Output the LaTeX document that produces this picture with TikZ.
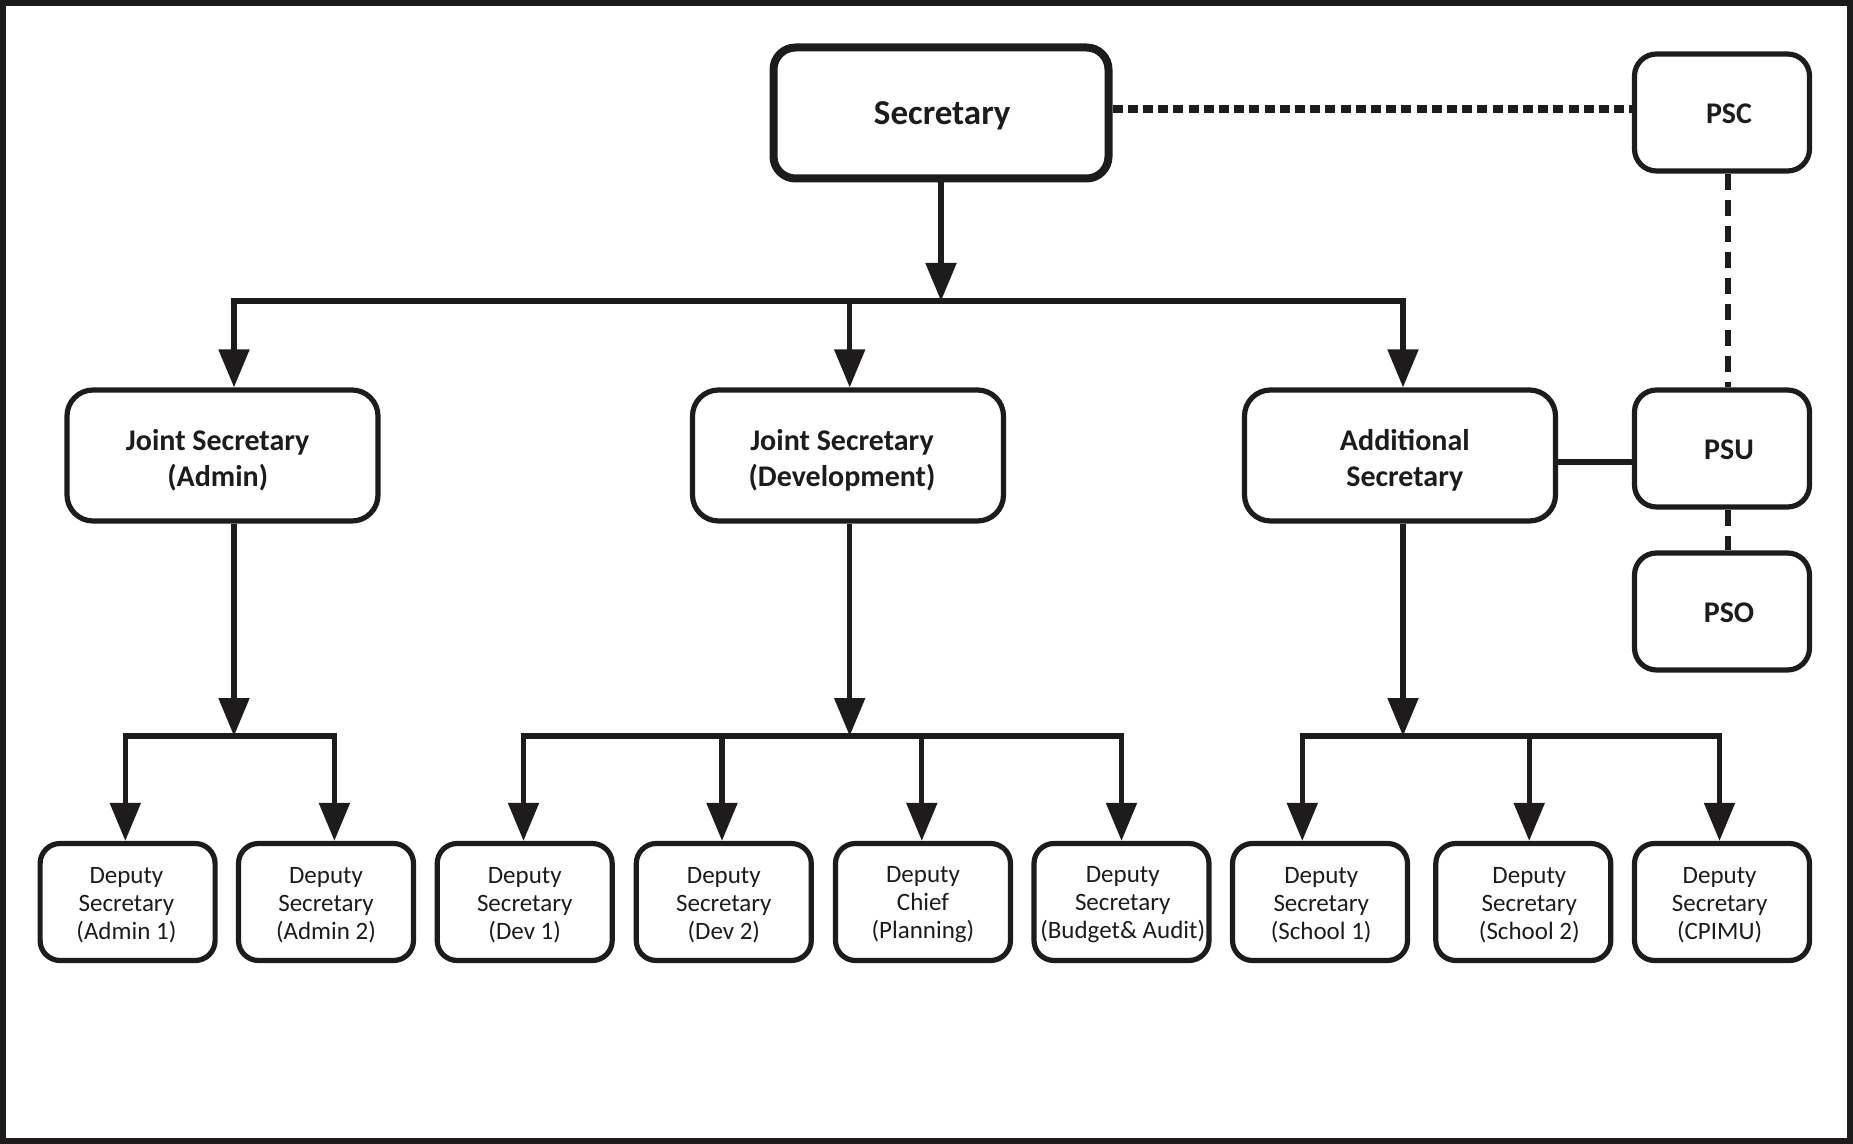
\documentclass[tikz,border=0pt]{standalone}
\usepackage{fontspec}
\setmainfont{Carlito}
\usetikzlibrary{arrows.meta}
\definecolor{ink}{RGB}{30,27,28}

\begin{document}
\begin{tikzpicture}[x=0.5pt,y=-0.5pt,
  box/.style={draw=ink, line width=2.6pt, rounded corners=11pt,
              inner sep=0pt, fill=white},
  chiefbox/.style={box, line width=4pt, minimum width=167.5pt, minimum height=65.5pt},
  headbox/.style={box, rounded corners=13pt, minimum width=155.5pt, minimum height=65.5pt},
  sidebox/.style={box, minimum width=87.5pt, minimum height=58.5pt},
  depbox/.style={box, rounded corners=10pt, minimum width=87.5pt, minimum height=58.5pt},
  txt/.style={text=ink, align=center, inner sep=0pt},
  chieftext/.style={txt, font=\bfseries\fontsize{17.5}{21}\selectfont},
  headtext/.style={txt, font=\bfseries\fontsize{15}{18.3}\selectfont},
  sidetext/.style={txt, font=\bfseries\fontsize{15}{18}\selectfont, xshift=3.5pt, yshift=-0.6pt},
  deptext/.style={txt, font=\fontsize{12.5}{14}\selectfont, yshift=-1.5pt},
  conn/.style={draw=ink, line width=2.6pt, line join=miter},
  arr/.style={conn, -{Triangle[width=15pt,length=19pt]}},
  dotline/.style={draw=ink, line width=4pt, dash pattern=on 5pt off 2.6pt},
  dashline/.style={draw=ink, line width=3pt, dash pattern=on 8pt off 5pt},
]
\useasboundingbox (0,0) rectangle (1853,1144);
% outer frame
\draw[ink, line width=3pt] (3,3) rectangle (1850,1141);

% top level
\node[chiefbox, label={[chieftext, xshift=0.6pt, yshift=-1.2pt]center:Secretary}] (sec) at (941,113) {};
\node[sidebox, label={[sidetext]center:PSC}] (psc) at (1722,112.5) {};
\node[sidebox, label={[sidetext]center:PSU}] (psu) at (1722,448.5) {};
\node[sidebox, label={[sidetext]center:PSO}] (pso) at (1722,611.5) {};

% second level
\node[headbox, label={[headtext, xshift=-2.4pt, yshift=-2.4pt]center:Joint Secretary\\(Admin)}] (jsa) at (222.5,455.5) {};
\node[headbox, label={[headtext, xshift=-3pt, yshift=-2.4pt]center:Joint Secretary\\(Development)}] (jsd) at (848,455.5) {};
\node[headbox, label={[headtext, xshift=2.4pt, yshift=-2.4pt]center:Additional\\Secretary}] (ads) at (1400,455.5) {};

% third level
\node[depbox, label={[deptext, xshift=-0.6pt]center:Deputy\\Secretary\\(Admin 1)}] (d1) at (127.6,902) {};
\node[depbox, label={[deptext]center:Deputy\\Secretary\\(Admin 2)}] (d2) at (326,902) {};
\node[depbox, label={[deptext]center:Deputy\\Secretary\\(Dev 1)}] (d3) at (524.7,902) {};
\node[depbox, label={[deptext]center:Deputy\\Secretary\\(Dev 2)}] (d4) at (723.8,902) {};
\node[depbox, label={[deptext]center:Deputy\\Chief\\(Planning)}] (d5) at (923,902) {};
\node[depbox, label={[deptext, xshift=0.6pt]center:Deputy\\Secretary\\(Budget\& Audit)}] (d6) at (1121.5,902) {};
\node[depbox, label={[deptext, xshift=0.6pt]center:Deputy\\Secretary\\(School 1)}] (d7) at (1320,902) {};
\node[depbox, label={[deptext, xshift=3pt]center:Deputy\\Secretary\\(School 2)}] (d8) at (1523.3,902) {};
\node[depbox, label={[deptext, xshift=-1.2pt]center:Deputy\\Secretary\\(CPIMU)}] (d9) at (1722,902) {};

% bus junctions
\coordinate (ta) at (234,301);
\coordinate (tb) at (849.7,301);
\coordinate (tc) at (1403,301);
\coordinate (sa) at (941,301);

\coordinate (a1) at (125.3,736);
\coordinate (a0) at (234,736);
\coordinate (a2) at (334.4,736);

\coordinate (b1) at (523.5,736);
\coordinate (b2) at (722,736);
\coordinate (b0) at (849.7,736);
\coordinate (b3) at (921.8,736);
\coordinate (b4) at (1121.5,736);

\coordinate (c1) at (1302.3,736);
\coordinate (c0) at (1403,736);
\coordinate (c2) at (1529.2,736);
\coordinate (c3) at (1719.5,736);

% secretary to second level
\draw[arr] (sec.south) -- (sa);
\draw[arr] (tb) -- (ta) -- (ta |- jsa.north);
\draw[arr] (tb) -- (tc) -- (tc |- ads.north);
\draw[arr] (tb) -- (tb |- jsd.north);

% admin branch
\draw[arr] (jsa.south -| a0) -- (a0);
\draw[arr] (a0) -- (a1) -- (a1 |- d1.north);
\draw[arr] (a0) -- (a2) -- (a2 |- d2.north);

% development branch
\draw[arr] (jsd.south -| b0) -- (b0);
\draw[arr] (b2) -- (b1) -- (b1 |- d3.north);
\draw[arr] (b2) -- (b2 |- d4.north);
\draw[arr] (b3) -- (b4) -- (b4 |- d6.north);
\draw[arr] (b3) -- (b3 |- d5.north);
\draw[conn] (b2) -- (b3);

% additional secretary branch
\draw[arr] (ads.south -| c0) -- (c0);
\draw[arr] (c2) -- (c1) -- (c1 |- d7.north);
\draw[arr] (c1) -- (c3) -- (c3 |- d9.north);
\draw[arr] (c2) -- (c2 |- d8.north);

% support units
\coordinate (dl) at (0,109);
\coordinate (vl) at (1727.5,0);
\draw[dotline] (sec.east |- dl) -- (psc.west |- dl);
\draw[dashline] (vl |- psc.south) -- (vl |- psu.north);
\draw[dashline] (vl |- psu.south) -- (vl |- pso.north);
\coordinate (lk) at (0,462);
\draw[conn] (ads.east |- lk) -- (psu.west |- lk);
\end{tikzpicture}
\end{document}
